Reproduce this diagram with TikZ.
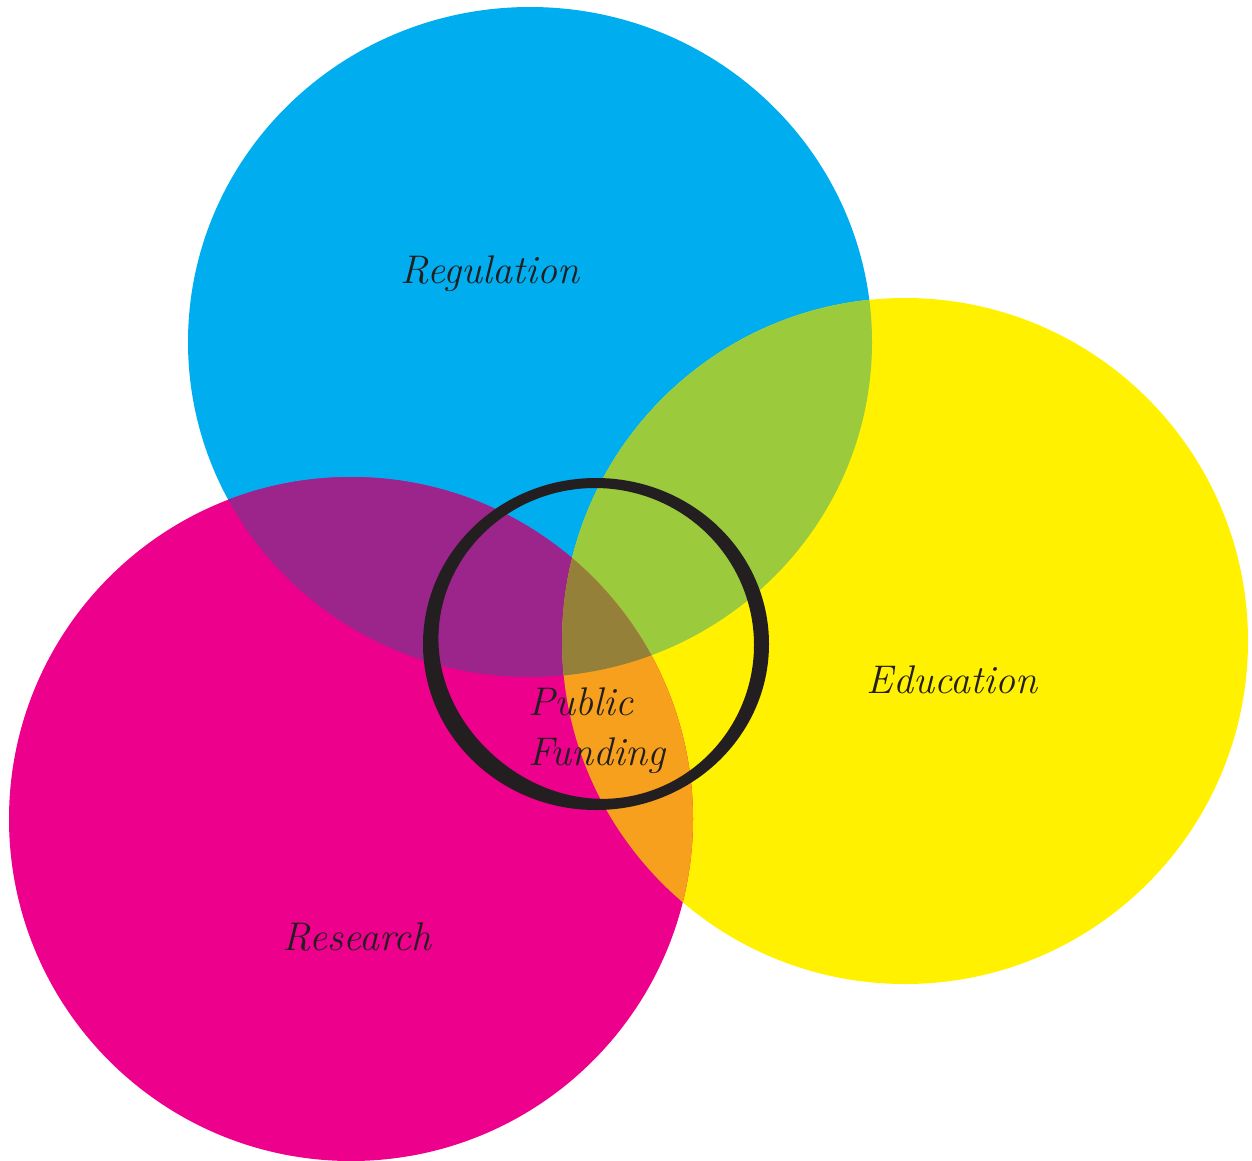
\documentclass[tikz,border=0pt]{standalone}
\definecolor{cyanC}{HTML}{00AEEF}
\definecolor{yelC}{HTML}{FFF100}
\definecolor{magC}{HTML}{EC008C}
\definecolor{grnC}{HTML}{9BCA3C}
\definecolor{purC}{HTML}{9B258B}
\definecolor{orC}{HTML}{F7A01D}
\definecolor{olC}{HTML}{95803A}
\definecolor{ringC}{HTML}{231F20}
\begin{document}
\begin{tikzpicture}[x=1pt,y=-1pt,
  lbl/.style={text=ringC,font=\fontsize{40}{50}\selectfont\itshape,inner sep=0pt}]
\useasboundingbox (0,0) rectangle (1252,1160);
\def\bluepath{(530,342) ellipse [x radius=342, y radius=335]}
\def\yelpath{(905,641) circle [radius=343]}
\def\magpath{(351,819) circle [radius=342]}
\fill[cyanC] \bluepath;
\fill[yelC] \yelpath;
\fill[magC] \magpath;
\begin{scope}
  \clip \bluepath;
  \fill[grnC] \yelpath;
  \fill[purC] \magpath;
\end{scope}
\begin{scope}
  \clip \yelpath;
  \fill[orC] \magpath;
\end{scope}
\begin{scope}
  \clip \bluepath;
  \clip \yelpath;
  \fill[olC] \magpath;
\end{scope}
% hand-drawn ring: outer ellipse minus a slightly offset inner one
\fill[ringC,even odd rule]
  (596,644) ellipse [x radius=173, y radius=166]
  plot[domain=0:360,samples=180,smooth cycle,variable=\t]
    ({595+(159-8*exp(-((\t-132)/45)^2))*cos(\t)},
     {645+(157-8*exp(-((\t-132)/45)^2))*sin(\t)});
\node[lbl] (reg) at (490,274) {Regulation};
\node[lbl] (edu) at (952,680) {Education};
\node[lbl] (res) at (357,937) {Research};
\node[lbl,align=left,anchor=north west] (pub) at (528,688) {Public\\Funding};
\end{tikzpicture}
\end{document}
